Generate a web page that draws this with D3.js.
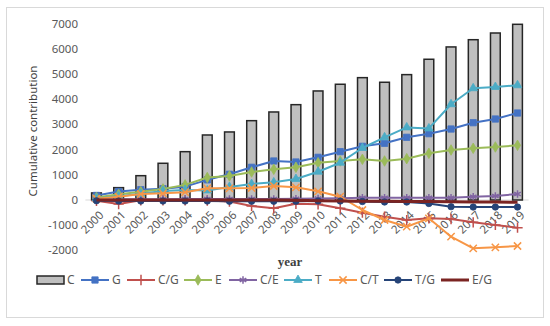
<!DOCTYPE html>
<html>
<head>
<meta charset="utf-8">
<script src="https://cdn.jsdelivr.net/npm/d3@7"></script>
<style>
  body { margin: 0; background: #fff; }
  svg { display: block; font-family: "Noto Sans", sans-serif; }
</style>
</head>
<body>
<svg id="chart" width="550" height="326"></svg>
<script>
// data
var years = ["2000","2001","2002","2003","2004","2005","2006","2007","2008","2009",
             "2010","2011","2012","2013","2014","2015","2016","2017","2018","2019"];
var yTicks = [-2000, -1000, 0, 1000, 2000, 3000, 4000, 5000, 6000, 7000];

var C   = [280, 490, 965, 1457, 1918, 2580, 2700, 3148, 3493, 3783, 4327, 4593, 4855, 4672, 4975, 5585, 6074, 6361, 6627, 6972];
var G   = [180, 340, 410, 450, 530, 800, 1020, 1298, 1548, 1508, 1694, 1918, 2130, 2250, 2488, 2632, 2817, 3068, 3214, 3452];
var CG  = [-30, -160, -10, -10, -10, -20, -60, -238, -330, -150, -170, -330, -504, -663, -794, -727, -754, -885, -992, -1099];
var E   = [100, 225, 330, 440, 600, 890, 953, 1112, 1218, 1298, 1480, 1548, 1615, 1548, 1640, 1853, 1985, 2052, 2104, 2170];
var CE  = [20, 30, 30, 30, 40, 40, 40, 40, 40, 50, 60, 70, 91, 90, 90, 91, 91, 131, 159, 238];
var T   = [60, 150, 250, 357, 400, 380, 520, 635, 700, 833, 1123, 1480, 2064, 2488, 2880, 2840, 3800, 4434, 4485, 4552];
var CT  = [50, 130, 238, 265, 310, 464, 464, 476, 556, 503, 345, 131, -397, -794, -1060, -727, -1456, -1917, -1877, -1826];
var TG  = [-30, -40, -40, -40, -40, -40, -50, -50, -50, -50, -40, -40, -60, -80, -80, -140, -265, -280, -280, -280];
var EG  = [0, 0, 0, 0, 0, 0, 0, 0, 0, -10, -30, -40, -50, -50, -60, -60, -70, -80, -80, -90];

var lineSeries = [
  {name: "G",   values: G,  color: "#4472C4", marker: "square"},
  {name: "C/G", values: CG, color: "#C0504D", marker: "plus"},
  {name: "E",   values: E,  color: "#9BBB59", marker: "diamond"},
  {name: "C/E", values: CE, color: "#8064A2", marker: "star"},
  {name: "T",   values: T,  color: "#4BACC6", marker: "triangle"},
  {name: "C/T", values: CT, color: "#F79646", marker: "cross"},
  {name: "T/G", values: TG, color: "#264478", marker: "circle"},
  {name: "E/G", values: EG, color: "#7B2422", marker: "none"}
];

var svg = d3.select("#chart");

// outer chart border
svg.append("rect")
  .attr("x", 6.5).attr("y", 7.5).attr("width", 537).attr("height", 310)
  .attr("fill", "#fff").attr("stroke", "#d9d9d9");

var x = d3.scaleBand().domain(years).range([85.4, 528.6]).paddingInner(0.56).paddingOuter(0.28);
var y = d3.scaleLinear().domain([-2000, 7000]).range([250.4, 23.6]);
var cx = function(i) { return x(years[i]) + x.bandwidth() / 2; };

// y tick labels
svg.append("g").selectAll("text")
  .data(yTicks).enter().append("text")
  .attr("x", 78).attr("y", function(d) { return y(d); })
  .attr("dy", "0.35em")
  .attr("text-anchor", "end")
  .attr("font-size", 11.5).attr("fill", "#595959")
  .text(function(d) { return d; });

// y title
svg.append("text")
  .attr("transform", "translate(37,131) rotate(-90)")
  .attr("text-anchor", "middle")
  .attr("font-size", 11.5).attr("fill", "#404040")
  .text("Cumulative contribution");

// zero line
svg.append("line")
  .attr("x1", 85.4).attr("x2", 528.6)
  .attr("y1", y(0)).attr("y2", y(0))
  .attr("stroke", "#d9d9d9").attr("stroke-width", 1);

// bars
svg.append("g").selectAll("rect")
  .data(C).enter().append("rect")
  .attr("x", function(d, i) { return x(years[i]); })
  .attr("width", x.bandwidth())
  .attr("y", function(d) { return y(d); })
  .attr("height", function(d) { return y(0) - y(d); })
  .attr("fill", "#BFBFBF").attr("stroke", "#262626").attr("stroke-width", 1.5);

// x labels (rotated)
svg.append("g").selectAll("text")
  .data(years).enter().append("text")
  .attr("transform", function(d, i) { return "translate(" + (cx(i) + 5) + "," + 213 + ") rotate(-45)"; })
  .attr("text-anchor", "end")
  .attr("dy", "0.35em")
  .attr("font-size", 11.5).attr("fill", "#595959")
  .text(function(d) { return d; });

// markers
var symbolType = {
  square: d3.symbolSquare, diamond: d3.symbolDiamond, triangle: d3.symbolTriangle,
  circle: d3.symbolCircle, plus: d3.symbolCross, cross: d3.symbolX, star: d3.symbolAsterisk
};
var symbolSize = {square: 40, diamond: 32, triangle: 32, circle: 32, plus: 36, cross: 36, star: 40};

function drawMarker(g, kind, color, px, py) {
  if (kind === "none") return;
  var stroked = (kind === "plus" || kind === "cross" || kind === "star");
  var sym = kind === "plus" ? d3.symbolX : symbolType[kind];
  var p = g.append("path")
    .attr("transform", "translate(" + px + "," + py + ")" + (kind === "plus" ? " rotate(45)" : ""))
    .attr("d", d3.symbol().type(sym).size(symbolSize[kind])());
  if (stroked) p.attr("fill", "none").attr("stroke", color).attr("stroke-width", 1.5);
  else p.attr("fill", color).attr("stroke", color).attr("stroke-width", 0.8);
}

var line = d3.line()
  .x(function(d, i) { return cx(i); })
  .y(function(d) { return y(d); });

lineSeries.forEach(function(s) {
  var g = svg.append("g");
  g.append("path")
    .attr("d", line(s.values))
    .attr("fill", "none")
    .attr("stroke", s.color)
    .attr("stroke-width", s.name === "E/G" ? 3 : 2)
    .attr("stroke-linejoin", "round");
  s.values.forEach(function(v, i) { drawMarker(g, s.marker, s.color, cx(i), y(v)); });
});

// x title
svg.append("text")
  .attr("x", 290).attr("y", 266)
  .attr("text-anchor", "middle")
  .attr("font-family", "Liberation Serif, serif")
  .attr("font-weight", "bold").attr("font-size", 13).attr("fill", "#404040")
  .text("year");

// legend
var legend = svg.append("g");
legend.append("rect")
  .attr("x", 37).attr("y", 276).attr("width", 27).attr("height", 8)
  .attr("fill", "#BFBFBF").attr("stroke", "#262626").attr("stroke-width", 1.5);
legend.append("text")
  .attr("x", 67).attr("y", 280).attr("dy", "0.35em")
  .attr("font-size", 12).attr("fill", "#595959").text("C");

var legendX = [81, 127, 184, 229, 284, 329, 384, 441];
lineSeries.forEach(function(s, i) {
  var lx = legendX[i];
  legend.append("line")
    .attr("x1", lx).attr("x2", lx + 28).attr("y1", 280).attr("y2", 280)
    .attr("stroke", s.color).attr("stroke-width", s.name === "E/G" ? 3 : 2);
  drawMarker(legend, s.marker, s.color, lx + 14, 280);
  legend.append("text")
    .attr("x", lx + 31).attr("y", 280).attr("dy", "0.35em")
    .attr("font-size", 12).attr("fill", "#595959").text(s.name);
});
</script>
</body>
</html>
